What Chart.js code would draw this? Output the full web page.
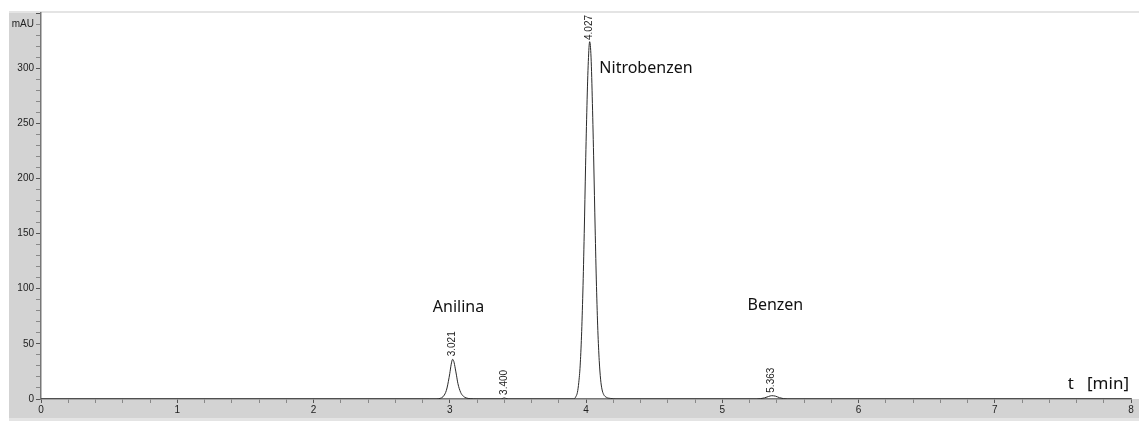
<!DOCTYPE html>
<html>
<head>
<meta charset="utf-8">
<style>
  html, body { margin: 0; padding: 0; background: #fff; }
  #wrap { width: 1139px; height: 425px; }
</style>
</head>
<body>
<div id="wrap"><canvas id="chart"></canvas></div>

<script src="https://cdn.jsdelivr.net/npm/chart.js@4/dist/chart.umd.min.js"></script>

<script>
    // chromatogram: time [min] and signal [mAU]
    var times = [
        0, 2.85,
        2.90, 2.93, 2.95, 2.97, 2.98, 2.99, 3.00, 3.01, 3.021, 3.03, 3.04, 3.05, 3.06, 3.08, 3.10, 3.12, 3.15, 3.20,
        3.37, 3.39, 3.40, 3.41, 3.43,
        3.91, 3.927, 3.937, 3.947, 3.957, 3.967, 3.977, 3.987, 3.997, 4.007, 4.017, 4.027,
        4.037, 4.047, 4.057, 4.067, 4.077, 4.087, 4.097, 4.107, 4.117, 4.13, 4.15, 4.18, 4.22,
        5.25, 5.28, 5.31, 5.34, 5.363, 5.39, 5.42, 5.45, 5.48,
        8
    ];
    var signal = [
        0, 0,
        0, 0.6, 2, 6, 10, 16, 23, 31, 36, 34, 28, 21, 14, 6, 2.5, 1, 0.3, 0,
        0, 0.6, 1, 0.6, 0,
        0, 2.5, 6, 15, 30, 57, 97, 150, 212, 266, 306, 324,
        310, 268, 214, 155, 102, 62, 35, 18, 9, 4, 1.5, 0.5, 0,
        0, 0.3, 1, 2.3, 3, 2.6, 1.2, 0.3, 0,
        0
    ];

    // retention time labels
    var peakTimes = [3.021, 3.400, 4.027, 5.363];
    var peakTexts = ['3.021', '3.400', '4.027', '5.363'];
    var peakTops = [36, 1, 324, 3];

    // compound names
    var compoundNames = ['Anilina', 'Nitrobenzen', 'Benzen'];
    var compoundT = [3.064, 4.44, 5.39];
    var compoundV = [83, 300, 85];

    var xUnit = 't   [min]';
    var yUnit = 'mAU';

    var points = times.map(function (t, i) { return { x: t, y: signal[i] }; });

    function isWhole(v, step) {
        return Math.abs(v / step - Math.round(v / step)) < 1e-6;
    }

    const panelPlugin = {
        id: 'panel',
        beforeDraw(chart) {
            const ctx = chart.ctx, a = chart.chartArea;
            ctx.save();
            ctx.fillStyle = '#ffffff';
            ctx.fillRect(0, 0, chart.width, chart.height);
            ctx.fillStyle = '#d3d3d3';
            ctx.fillRect(9, 11, chart.width - 9, 407);
            ctx.fillStyle = '#e4e4e4';
            ctx.fillRect(9, 11, chart.width - 9, 2);
            ctx.fillRect(9, 418, chart.width - 9, 3);
            ctx.fillStyle = '#ffffff';
            ctx.fillRect(a.left, a.top, a.right - a.left + 8, a.bottom - a.top);
            ctx.restore();
        },
        afterDatasetsDraw(chart) {
            const ctx = chart.ctx, xs = chart.scales.x, ys = chart.scales.y;
            ctx.save();
            // rotated retention times
            ctx.font = '10px "Liberation Sans", Arial, sans-serif';
            ctx.fillStyle = '#222';
            ctx.textBaseline = 'middle';
            ctx.textAlign = 'left';
            for (let i = 0; i < peakTimes.length; i++) {
                const px = xs.getPixelForValue(peakTimes[i]);
                let py = ys.getPixelForValue(peakTops[i]) - 3;
                const w = ctx.measureText(peakTexts[i]).width;
                if (py - w < chart.chartArea.top + 2) py = chart.chartArea.top + 2 + w;
                ctx.save();
                ctx.translate(px, py);
                ctx.rotate(-Math.PI / 2);
                ctx.fillText(peakTexts[i], 0, 0);
                ctx.restore();
            }
            // compound names
            ctx.font = '16px "Noto Sans", "Open Sans", sans-serif';
            ctx.fillStyle = '#111';
            ctx.textAlign = 'center';
            for (let i = 0; i < compoundNames.length; i++) {
                ctx.fillText(compoundNames[i], xs.getPixelForValue(compoundT[i]), ys.getPixelForValue(compoundV[i]));
            }
            ctx.font = '17px "Noto Sans", "Open Sans", sans-serif';
            ctx.textAlign = 'right';
            ctx.fillText(xUnit, xs.right - 2, ys.getPixelForValue(13.5));
            ctx.restore();
        }
    };

    new Chart(document.getElementById('chart'), {
        type: 'line',
        data: {
            datasets: [{
                data: points,
                borderColor: '#2a2a2a',
                borderWidth: 1,
                pointRadius: 0,
                fill: false,
                cubicInterpolationMode: 'monotone'
            }]
        },
        options: {
            responsive: true,
            maintainAspectRatio: false,
            animation: false,
            layout: { padding: { left: 9, top: 13, right: 8, bottom: 7 } },
            plugins: { legend: { display: false }, tooltip: { enabled: false } },
            scales: {
                x: {
                    type: 'linear',
                    min: 0,
                    max: 8,
                    afterFit: function (s) { s.height = 19; },
                    border: { color: '#777', width: 1.5 },
                    grid: {
                        drawOnChartArea: false,
                        tickLength: 4,
                        tickColor: function (c) { return isWhole(c.tick.value, 1) ? '#555' : '#888'; }
                    },
                    ticks: {
                        stepSize: 0.2,
                        autoSkip: false,
                        maxRotation: 0,
                        padding: 1,
                        color: '#222',
                        font: { family: '"Liberation Sans", Arial, sans-serif', size: 10 },
                        callback: function (v) { return isWhole(v, 1) ? Math.round(v) : ''; }
                    }
                },
                y: {
                    min: 0,
                    max: 350,
                    afterFit: function (s) { s.width = 32; },
                    border: { color: '#777', width: 1.5 },
                    grid: {
                        drawOnChartArea: false,
                        tickLength: 5,
                        tickColor: function (c) { return isWhole(c.tick.value, 50) ? '#555' : '#888'; }
                    },
                    ticks: {
                        stepSize: 10,
                        autoSkip: false,
                        padding: 2,
                        color: '#222',
                        font: { family: '"Liberation Sans", Arial, sans-serif', size: 10 },
                        callback: function (v) {
                            if (v === 340) return yUnit;
                            return (isWhole(v, 50) && v <= 300) ? v : '';
                        }
                    }
                }
            }
        },
        plugins: [panelPlugin]
    });
</script>
</body>
</html>
